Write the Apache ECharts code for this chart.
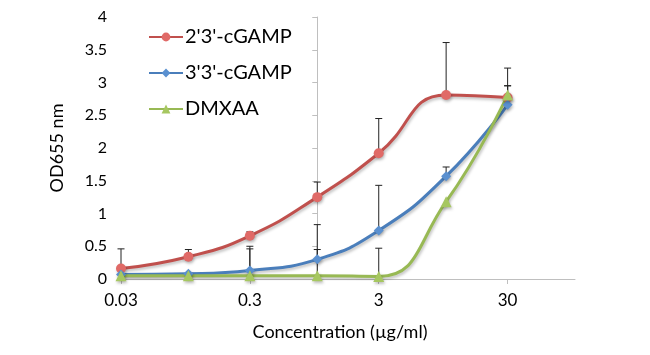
<!DOCTYPE html>
<html>
<head>
<meta charset="utf-8">
<script src="https://cdn.jsdelivr.net/npm/echarts@6/dist/echarts.min.js"></script>
<style>html,body{margin:0;padding:0;background:#fff;}#c{width:650px;height:355px;}</style>
</head>
<body>
<div id="c"></div>
<script>
var concentrations = [0.03, 0.1, 0.3, 1, 3, 10, 30];
var tickLabels = [0.03, 0.3, 3, 30];
var seriesNames = ["2'3'-cGAMP", "3'3'-cGAMP", "DMXAA"];
var cgamp23 = [0.16, 0.34, 0.66, 1.25, 1.92, 2.81, 2.77];
var cgamp23Err = [0.30, 0.11, 0.06, 0.23, 0.53, 0.80, 0.45];
var cgamp33 = [0.07, 0.08, 0.13, 0.30, 0.74, 1.57, 2.66];
var cgamp33Err = [0, 0, 0.37, 0.53, 0.69, 0.14, 0.29];
var dmxaa = [0.05, 0.05, 0.05, 0.05, 0.04, 1.18, 2.81];
var dmxaaErr = [0, 0, 0.41, 0.40, 0.43, 0, 0.14];
var xMin = 0.03, xMax = 100;

var FONT = 'Lato';
var lineColors = ['#c0504d', '#4a7ebb', '#98b954'];
var markColors = ['#e06a67', '#5a90d0', '#a6c760'];
var symbols = ['circle', 'diamond', 'triangle'];
var symbolSizes = [10, 10, 11];
var values = [cgamp23, cgamp33, dmxaa];
var errs = [cgamp23Err, cgamp33Err, dmxaaErr];

function lg(v) { return Math.log10(v); }

var series = [];
// error bars (upper only)
values.forEach(function (vals, si) {
  var d = concentrations.map(function (c, i) { return [lg(c), vals[i], vals[i] + errs[si][i]]; })
    .filter(function (p) { return p[2] > p[1]; });
  series.push({
    type: 'custom',
    silent: true,
    z: 1,
    data: d,
    encode: { x: 0, y: [1, 2] },
    renderItem: function (params, api) {
      var p0 = api.coord([api.value(0), api.value(1)]);
      var p1 = api.coord([api.value(0), api.value(2)]);
      var style = { stroke: '#222', lineWidth: 1 };
      return {
        type: 'group',
        children: [
          { type: 'line', shape: { x1: p0[0], y1: p0[1], x2: p1[0], y2: p1[1] }, style: style },
          { type: 'line', shape: { x1: p1[0] - 3.5, y1: p1[1], x2: p1[0] + 3.5, y2: p1[1] }, style: style }
        ]
      };
    }
  });
});
values.forEach(function (vals, si) {
  series.push({
    name: seriesNames[si],
    type: 'line',
    z: 3,
    smooth: 0.5,
    symbol: symbols[si],
    symbolSize: symbolSizes[si],
    data: concentrations.map(function (c, i) { return [lg(c), vals[i]]; }),
    lineStyle: { color: lineColors[si], width: 3, shadowColor: 'rgba(0,0,0,0.25)', shadowBlur: 3, shadowOffsetX: 1, shadowOffsetY: 2 },
    itemStyle: { color: markColors[si], borderColor: markColors[si], borderWidth: 0, shadowColor: 'rgba(0,0,0,0.25)', shadowBlur: 3, shadowOffsetX: 1, shadowOffsetY: 2 },
    emphasis: { disabled: true }
  });
});

var tickVals = tickLabels.map(lg);

var option = {
  animation: false,
  backgroundColor: '#fff',
  textStyle: { fontFamily: FONT },
  grid: { left: 121, right: 75, top: 17, bottom: 76, containLabel: false },
  legend: {
    orient: 'vertical',
    left: 143,
    top: 22,
    itemWidth: 34,
    itemHeight: 11,
    itemGap: 16,
    textStyle: { fontFamily: FONT, fontSize: 20, color: '#000', padding: [0, 0, 0, -3] },
    data: seriesNames
  },
  xAxis: {
    type: 'value',
    min: lg(xMin),
    max: lg(xMax),
    name: 'Concentration (µg/ml)',
    nameLocation: 'middle',
    nameGap: 44,
    nameTextStyle: { fontFamily: FONT, fontSize: 18, color: '#000', padding: [0, 16, 0, 0] },
    axisLine: { show: true, lineStyle: { color: '#bfbfbf', width: 1 } },
    axisTick: { show: true, customValues: tickVals, length: 5, lineStyle: { color: '#bfbfbf' } },
    axisLabel: {
      customValues: tickVals,
      fontFamily: FONT, fontSize: 17, color: '#000', margin: 13,
      formatter: function (v) { return String(parseFloat(Math.pow(10, v).toPrecision(3))); }
    },
    splitLine: { show: false }
  },
  yAxis: {
    type: 'value',
    min: 0,
    max: 4,
    interval: 0.5,
    name: 'OD655 nm',
    nameLocation: 'middle',
    nameGap: 55,
    nameTextStyle: { fontFamily: FONT, fontSize: 18, color: '#000' },
    axisLine: { show: true, lineStyle: { color: '#bfbfbf', width: 1 } },
    axisTick: { show: true, length: 5, lineStyle: { color: '#bfbfbf' } },
    axisLabel: { fontFamily: FONT, fontSize: 16, color: '#000', margin: 14 },
    splitLine: { show: false }
  },
  series: series
};

var chart = echarts.init(document.getElementById('c'), null, { renderer: 'canvas' });
chart.setOption(option);
</script>
</body>
</html>
